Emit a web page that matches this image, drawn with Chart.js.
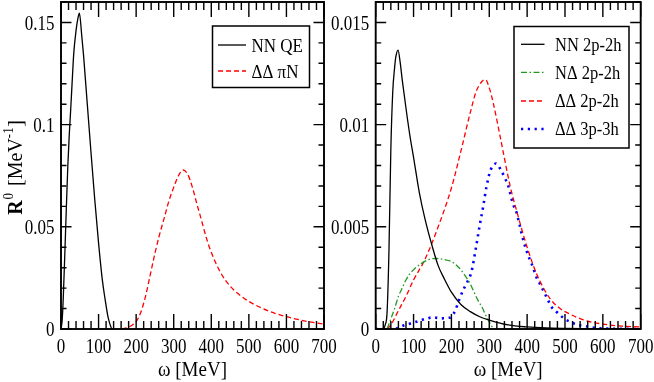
<!DOCTYPE html>
<html><head><meta charset="utf-8">
<script src="https://cdn.jsdelivr.net/npm/chart.js@4.4.1/dist/chart.umd.min.js"></script>
<style>
html,body{margin:0;padding:0;background:#fff;overflow:hidden;}
#wrap{position:relative;width:654px;height:382px;}
canvas{position:absolute;left:0;top:0;}
</style></head><body>
<div id="wrap"><canvas id="left" width="654" height="382"></canvas><canvas id="right" width="654" height="382"></canvas></div>
<script>
// ---------------- data ----------------
const omegaTickLabels = ['0','100','200','300','400','500','600','700'];
const leftYTickLabels = ['0','0.05','0.1','0.15'];
const rightYTickLabels = ['0','0.005','0.01','0.015'];
const xTitle = 'ω [MeV]';

const leftSeriesNames = ['NN QE', 'ΔΔ πN'];
const rightSeriesNames = ['NN 2p-2h', 'NΔ 2p-2h', 'ΔΔ 2p-2h', 'ΔΔ 3p-3h'];

// left panel
const nnQeOmega = [0, 3, 6, 10, 14, 18, 22, 26, 30, 34, 40, 45, 49, 55, 60, 65, 70, 75, 80, 90, 100, 110, 117, 125, 130, 135];
const nnQeR     = [0, 0.004, 0.015, 0.036, 0.058, 0.079, 0.095, 0.108, 0.122, 0.135, 0.146, 0.152, 0.1545, 0.144, 0.134, 0.122, 0.110, 0.098, 0.086, 0.063, 0.042, 0.024, 0.015, 0.006, 0.0025, 0];

const ddPiNOmega = [162, 175, 190, 200, 212, 225, 237, 250, 262, 275, 287, 300, 312, 325, 337, 350, 362, 375, 387, 400, 425, 450, 475, 500, 550, 600, 650, 700];
const ddPiNR     = [0, 0.0005, 0.002, 0.0036, 0.008, 0.016, 0.026, 0.037, 0.046, 0.0545, 0.0625, 0.0693, 0.0748, 0.0778, 0.0758, 0.0692, 0.0610, 0.0525, 0.0445, 0.0375, 0.0275, 0.0210, 0.0167, 0.0135, 0.0090, 0.0060, 0.0039, 0.0024];

// right panel
const nn2p2hOmega = [0, 20, 25, 30, 35, 40, 45, 50, 53, 59, 65, 70, 80, 90, 100, 115, 130, 150, 165, 180, 200, 225, 250, 275, 300, 350, 400, 450, 500, 600, 700];
const nn2p2hR     = [0, 0, 0.0002, 0.0008, 0.0038, 0.0088, 0.0116, 0.0128, 0.0133, 0.01365, 0.0130, 0.0122, 0.0108, 0.0095, 0.0084, 0.0067, 0.0054, 0.0040, 0.0031, 0.0025, 0.0018, 0.0012, 0.00085, 0.0006, 0.00044, 0.0002, 0.0001, 0.00005, 0.00003, 0.00001, 0];

const nDelta2p2hOmega = [30, 40, 50, 60, 70, 80, 90, 100, 120, 140, 160, 180, 200, 220, 240, 250, 260, 270, 280, 290, 300, 310, 315];
const nDelta2p2hR     = [0, 0.0005, 0.001, 0.0016, 0.002, 0.0024, 0.0027, 0.0029, 0.0032, 0.0034, 0.00345, 0.0034, 0.0033, 0.0030, 0.0025, 0.0022, 0.0018, 0.0014, 0.0011, 0.0007, 0.00035, 0.00005, 0];

const dd2p2hOmega = [30, 40, 60, 80, 100, 130, 165, 200, 225, 250, 265, 280, 290, 300, 310, 330, 355, 372, 400, 425, 460, 487, 500, 550, 600, 650, 700];
const dd2p2hR     = [0, 0.0002, 0.0009, 0.0016, 0.0024, 0.0034, 0.005, 0.0069, 0.0087, 0.0106, 0.0116, 0.0121, 0.0122, 0.0118, 0.0111, 0.0093, 0.0070, 0.0058, 0.0040, 0.0027, 0.0015, 0.0010, 0.00085, 0.00044, 0.00024, 0.00014, 0.0001];

const dd3p3hOmega = [0, 50, 62, 78, 98, 115, 133, 152, 171, 189, 200, 210, 220, 231, 242, 253, 265, 275, 284, 293, 304, 318, 330, 341, 350, 363, 372, 380, 392, 407, 416, 423, 434, 445, 455, 466, 482, 497, 515, 532, 551, 570, 600, 700];
const dd3p3hR     = [0, 0, 0.00008, 0.0002, 0.0003, 0.0004, 0.0005, 0.00057, 0.00052, 0.00054, 0.0006, 0.0009, 0.0014, 0.0019, 0.0023, 0.0028, 0.0040, 0.0051, 0.0060, 0.0070, 0.0078, 0.0081, 0.0078, 0.0074, 0.0070, 0.0061, 0.0057, 0.0051, 0.0042, 0.0034, 0.0030, 0.0026, 0.0022, 0.0018, 0.00142, 0.00104, 0.00077, 0.00052, 0.00034, 0.00021, 0.00015, 0.00008, 0.00003, 0];

// ---------------- drawing ----------------
const SERIF = '"Liberation Serif","Times New Roman","DejaVu Serif",serif';

function pts(xs, ys) { return xs.map((x, i) => ({ x: x, y: ys[i] })); }
function ds(label, xs, ys, color, dash, width) {
  return { label, data: pts(xs, ys), borderColor: color, backgroundColor: color, borderDash: dash,
           borderWidth: width, pointRadius: 0, fill: false, cubicInterpolationMode: 'monotone' };
}

function sText(ctx, s, x, y, align, font, sy) {
  ctx.save();
  ctx.font = font; ctx.textAlign = align; ctx.textBaseline = 'alphabetic'; ctx.fillStyle = '#000';
  ctx.translate(x, y); ctx.scale(1, sy); ctx.fillText(s, 0, 0);
  ctx.restore();
}

function decoPlugin(cfg) {
  return {
    id: 'deco_' + cfg.name,
    afterDraw(chart) {
      const ctx = chart.ctx, a = chart.chartArea, xs = chart.scales.x, ys = chart.scales.y;
      ctx.save();
      ctx.strokeStyle = '#000'; ctx.lineWidth = 1.4; ctx.setLineDash([]);
      ctx.beginPath();
      for (let i = 0; i <= 35; i++) {
        const v = i * 20, px = xs.getPixelForValue(v), L = (i % 5 === 0) ? 15 : 8;
        ctx.moveTo(px, a.bottom); ctx.lineTo(px, a.bottom - L);
        ctx.moveTo(px, a.top); ctx.lineTo(px, a.top + L);
      }
      for (let i = 0; i <= cfg.yMinorCount; i++) {
        const v = i * cfg.yMinor, py = ys.getPixelForValue(v), L = (i % 5 === 0) ? 10.5 : 5.5;
        ctx.moveTo(a.left, py); ctx.lineTo(a.left + L, py);
        ctx.moveTo(a.right, py); ctx.lineTo(a.right - L, py);
      }
      ctx.stroke();
      ctx.lineWidth = 1.9;
      ctx.strokeRect(a.left, a.top, a.right - a.left, a.bottom - a.top);

      const tickFont = '17px ' + SERIF;
      omegaTickLabels.forEach(l => sText(ctx, l, xs.getPixelForValue(parseFloat(l)), 353, 'center', tickFont, 1.28));
      cfg.yLabels.forEach(l => sText(ctx, l, a.left - 6.5, ys.getPixelForValue(parseFloat(l)) + 7.3, 'right', tickFont, 1.28));
      sText(ctx, xTitle, (a.left + a.right) / 2, 375.5, 'center', '19px ' + SERIF, 1.12);

      if (cfg.yTitle) {
        ctx.save();
        ctx.translate(22, 0);
        ctx.rotate(-Math.PI / 2);
        ctx.fillStyle = '#000'; ctx.textBaseline = 'alphabetic'; ctx.textAlign = 'left';
        const parts = [
          { t: 'R', f: 'bold 20px ' + SERIF, dy: 0, gap: 1 },
          { t: '0', f: '13px ' + SERIF, dy: -9, gap: 2 },
          { t: ' [MeV', f: '20px ' + SERIF, dy: 0, gap: 0 },
          { t: '-1', f: '13px ' + SERIF, dy: -9, gap: 0.5 },
          { t: ']', f: '20px ' + SERIF, dy: 0, gap: 0 }
        ];
        let total = 0;
        parts.forEach(p => { ctx.font = p.f; p.w = ctx.measureText(p.t).width; total += p.w + p.gap; });
        const cy = (a.top + a.bottom) / 2 + 2;
        let x = -(cy + total / 2);
        parts.forEach(p => {
          ctx.save(); ctx.font = p.f; ctx.translate(x, p.dy); ctx.scale(1, 1.05); ctx.fillText(p.t, 0, 0); ctx.restore();
          x += p.w + p.gap;
        });
        ctx.restore();
      }

      // legend
      const L = cfg.legend;
      ctx.fillStyle = '#fff';
      ctx.fillRect(L.x0, L.y0, L.x1 - L.x0, L.y1 - L.y0);
      ctx.lineWidth = 1.5; ctx.strokeStyle = '#000'; ctx.setLineDash([]);
      ctx.strokeRect(L.x0, L.y0, L.x1 - L.x0, L.y1 - L.y0);
      chart.data.datasets.forEach((d, i) => {
        const y = L.rows[i];
        ctx.save();
        ctx.strokeStyle = d.borderColor; ctx.lineWidth = d.borderWidth; ctx.setLineDash(d.borderDash || []);
        ctx.beginPath(); ctx.moveTo(L.s0, y); ctx.lineTo(L.s1, y); ctx.stroke();
        ctx.restore();
        sText(ctx, d.label, L.tx, y + L.base, 'left', L.font, 1.12);
      });
      ctx.restore();
    }
  };
}

function baseOptions(padLeft, padRight, yMax, yWidth) {
  return {
    responsive: false, animation: false, devicePixelRatio: 1,
    layout: { padding: { left: padLeft, right: padRight, top: 2, bottom: 0 } },
    plugins: { legend: { display: false }, tooltip: { enabled: false } },
    scales: {
      x: { type: 'linear', min: 0, max: 700, ticks: { display: false, stepSize: 100 },
           grid: { display: false, drawTicks: false }, border: { display: false },
           afterFit(s) { s.height = 53; } },
      y: { type: 'linear', min: 0, max: yMax, ticks: { display: false, includeBounds: false },
           grid: { display: false, drawTicks: false }, border: { display: false },
           afterFit(s) { s.width = yWidth; } }
    }
  };
}

new Chart(document.getElementById('left'), {
  type: 'line',
  data: { datasets: [
    ds(leftSeriesNames[0], nnQeOmega, nnQeR, '#000000', [], 1.3),
    ds(leftSeriesNames[1], ddPiNOmega, ddPiNR, '#ff0000', [5, 3], 1.3)
  ] },
  options: baseOptions(0, 330, 0.16, 61),
  plugins: [decoPlugin({ name: 'L', yMinor: 0.01, yMinorCount: 16, yLabels: leftYTickLabels, yTitle: true,
    legend: { x0: 212.5, y0: 26, x1: 309.5, y1: 87.5, rows: [45, 71], s0: 218, s1: 246, tx: 251.5, base: 7, font: '17px ' + SERIF } })]
});

new Chart(document.getElementById('right'), {
  type: 'line',
  data: { datasets: [
    ds(rightSeriesNames[0], nn2p2hOmega, nn2p2hR, '#000000', [], 1.3),
    ds(rightSeriesNames[1], nDelta2p2hOmega, nDelta2p2hR, '#1f9a1f', [6, 2.5, 1.5, 2.5], 1.3),
    ds(rightSeriesNames[2], dd2p2hOmega, dd2p2hR, '#ff0000', [5, 3], 1.3),
    ds(rightSeriesNames[3], dd3p3hOmega, dd3p3hR, '#0000ff', [2.2, 4.6], 2.6)
  ] },
  options: baseOptions(0, 13.3, 0.016, 375.7),
  plugins: [decoPlugin({ name: 'R', yMinor: 0.001, yMinorCount: 16, yLabels: rightYTickLabels, yTitle: false,
    legend: { x0: 514, y0: 26.5, x1: 629, y1: 148, rows: [44.3, 72.3, 101, 129], s0: 521, s1: 544.5, tx: 555, base: 6.4, font: '16.5px ' + SERIF } })]
});
</script>
</body></html>
